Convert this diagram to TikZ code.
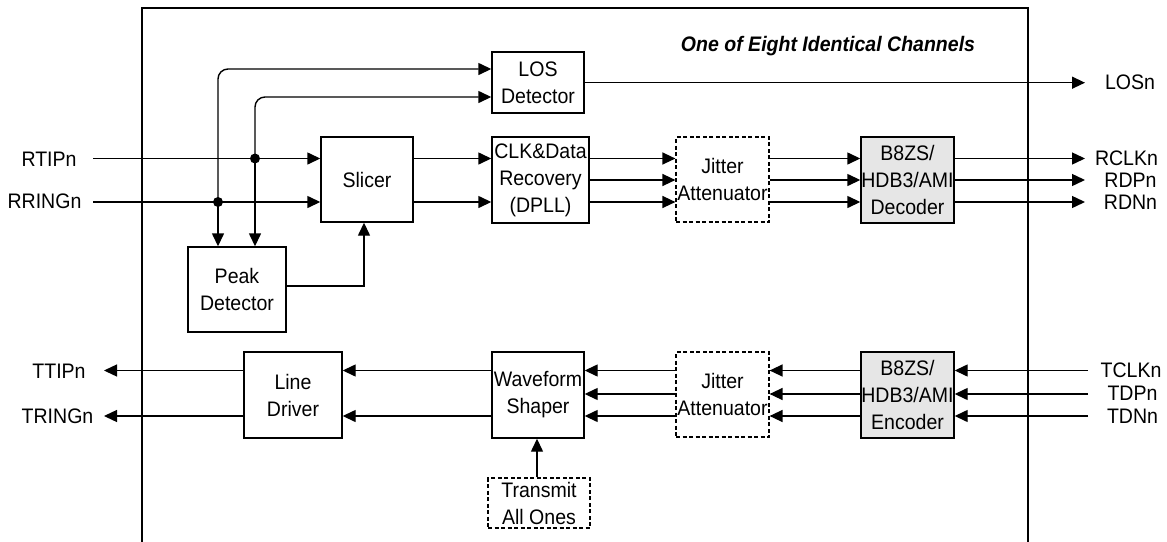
\documentclass[tikz,border=0pt]{standalone}
\usepackage{fontspec}
\setmainfont{Liberation Sans}[FakeStretch=0.93]
\usetikzlibrary{arrows.meta}
\definecolor{boxgray}{RGB}{230,230,230}
\begin{document}
\begin{tikzpicture}[x=1pt,y=-1pt,
  txt/.style={font=\fontsize{21}{27}\selectfont,inner sep=0pt,align=center},
  blk/.style={txt,draw,line width=1.4pt},
  dblk/.style={blk,line width=1.2pt,dash pattern=on 4pt off 2.5pt},
  gblk/.style={blk,fill=boxgray},
  sig/.style={line width=1.4pt,-{Triangle[length=13pt,width=12pt]}},
  dot/.style={circle,fill,inner sep=0pt,minimum size=10pt}
]
\useasboundingbox (0,0) rectangle (1167,541);
% outer frame (bottom off picture)
\draw[line width=1.4pt] (142,545) -- (142,8) -- (1028,8) -- (1028,545);

\node[txt,font=\fontsize{21}{24}\selectfont\bfseries\itshape] (title) at (828,46.5) {One of Eight Identical Channels};

% blocks
\node[blk,minimum width=92pt,minimum height=85pt] (slicer) at (367,179.5) {Slicer};
\node[blk,minimum width=98pt,minimum height=85pt] (peak) at (237,289.5) {Peak\\Detector};
\node[blk,minimum width=92pt,minimum height=61pt] (los) at (538,82.5) {LOS\\Detector};
\node[blk,minimum width=97pt,minimum height=86pt] (cdr) at (540.5,180) {CLK\&Data\\Recovery\\(DPLL)};
\node[dblk,minimum width=93pt,minimum height=85pt] (jit1) at (722.5,179.5) {Jitter\\Attenuator};
\node[gblk,minimum width=93pt,minimum height=86pt] (dec) at (907.5,180) {B8ZS/\\HDB3/AMI\\Decoder};
\node[blk,minimum width=98pt,minimum height=86pt] (ld) at (293,395) {Line\\Driver};
\node[blk,minimum width=92pt,minimum height=86pt] (wav) at (538,395) {Waveform\\Shaper};
\node[dblk,minimum width=93pt,minimum height=85pt] (jit2) at (722.5,394.5) {Jitter\\Attenuator};
\node[gblk,minimum width=93pt,minimum height=86pt] (enc) at (907.5,395) {B8ZS/\\HDB3/AMI\\Encoder};
\node[dblk,minimum width=102pt,minimum height=50pt] (tao) at (539,503) {Transmit\\All Ones};

% pin labels
\node[txt] (rtip) at (49,159) {RTIPn};
\node[txt] (rring) at (44.5,201) {RRINGn};
\node[txt] (ttip) at (59,371) {TTIPn};
\node[txt] (tring) at (57.5,416) {TRINGn};
\node[txt] (losn) at (1130,82.7) {LOSn};
\node[txt] (rclk) at (1126.5,158.5) {RCLKn};
\node[txt] (rdp) at (1130.5,180) {RDPn};
\node[txt] (rdn) at (1130.5,202) {RDNn};
\node[txt] (tclk) at (1131,370) {TCLKn};
\node[txt] (tdp) at (1132.5,393.5) {TDPn};
\node[txt] (tdn) at (1132.5,416) {TDNn};

% row levels
\coordinate (r1) at (0,158.5);
\coordinate (r2) at (0,180);
\coordinate (r3) at (0,202);
\coordinate (l1) at (0,69);
\coordinate (l2) at (0,97);
\coordinate (l3) at (0,82.7);
\coordinate (t1) at (0,370.5);
\coordinate (t2) at (0,394);
\coordinate (t3) at (0,416);

% pin ends
\coordinate (rtipin) at (93,158.5);
\coordinate (rringin) at (93,202);
\coordinate (losout) at (1085,82.7);
\coordinate (o1) at (1085,158.5);
\coordinate (o2) at (1085,180);
\coordinate (o3) at (1085,202);
\coordinate (i1) at (1088,370.5);
\coordinate (i2) at (1088,394);
\coordinate (i3) at (1088,416);
\coordinate (ttipout) at (104,370.5);
\coordinate (tringout) at (104,416);

% junctions
\coordinate (j1) at (255,158.5);
\coordinate (j2) at (218,202);

% receive path
\draw[sig] (rtipin) -- (rtipin -| slicer.west);
\draw[sig] (rringin) -- (rringin -| slicer.west);
\node[dot] (d1) at (j1) {};
\node[dot] (d2) at (j2) {};
\draw[sig,rounded corners=10pt] (j2) |- (los.west |- l1);
\draw[sig,rounded corners=10pt] (j1) |- (los.west |- l2);
\draw[sig] (j2) -- (j2 |- peak.north);
\draw[sig] (j1) -- (j1 |- peak.north);
\draw[sig] ([yshift=3.5pt]peak.east) -| ([xshift=-3pt]slicer.south);
\draw[sig] (los.east |- l3) -- (losout);

\draw[sig] (slicer.east |- r1) -- (cdr.west |- r1);
\draw[sig] (slicer.east |- r3) -- (cdr.west |- r3);
\foreach \r in {r1,r2,r3} {
  \draw[sig] (cdr.east |- \r) -- (jit1.west |- \r);
  \draw[sig] (jit1.east |- \r) -- (dec.west |- \r);
}
\draw[sig] (dec.east |- r1) -- (o1);
\draw[sig] (dec.east |- r2) -- (o2);
\draw[sig] (dec.east |- r3) -- (o3);

% transmit path
\draw[sig] (i1) -- (i1 -| enc.east);
\draw[sig] (i2) -- (i2 -| enc.east);
\draw[sig] (i3) -- (i3 -| enc.east);
\foreach \t in {t1,t2,t3} {
  \draw[sig] (enc.west |- \t) -- (jit2.east |- \t);
  \draw[sig] (jit2.west |- \t) -- (wav.east |- \t);
}
\draw[sig] (wav.west |- t1) -- (ld.east |- t1);
\draw[sig] (wav.west |- t3) -- (ld.east |- t3);
\draw[sig] (ld.west |- t1) -- (ttipout);
\draw[sig] (ld.west |- t3) -- (tringout);
\draw[sig] ([xshift=-2pt]tao.north) -- ([xshift=-1pt]wav.south);
\end{tikzpicture}
\end{document}
